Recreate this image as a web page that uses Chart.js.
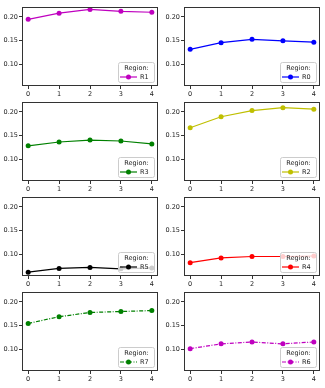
<!DOCTYPE html>
<html>
<head>
<meta charset="utf-8">
<script src="https://cdn.jsdelivr.net/npm/chart.js@4.4.0/dist/chart.umd.min.js"></script>
<style>
body { margin: 0; background: #fff; width: 325px; height: 388px; overflow: hidden; position: relative; }
canvas { position: absolute; }
</style>
</head>
<body>
<script>
// data
const xs = [0, 1, 2, 3, 4];
const yTicks = [0.10, 0.15, 0.20];
const r1Values = [0.195, 0.208, 0.216, 0.212, 0.210];
const r0Values = [0.132, 0.146, 0.153, 0.150, 0.147];
const r3Values = [0.129, 0.137, 0.141, 0.139, 0.133];
const r2Values = [0.167, 0.190, 0.203, 0.209, 0.206];
const r5Values = [0.063, 0.071, 0.073, 0.070, 0.072];
const r4Values = [0.083, 0.093, 0.096, 0.096, 0.097];
const r7Values = [0.155, 0.169, 0.178, 0.180, 0.182];
const r6Values = [0.102, 0.112, 0.116, 0.112, 0.116];

const panels = [
    { name: 'R1', values: r1Values, color: '#bf00bf', dash: [] },
    { name: 'R0', values: r0Values, color: '#0000ff', dash: [] },
    { name: 'R3', values: r3Values, color: '#008000', dash: [] },
    { name: 'R2', values: r2Values, color: '#bfbf00', dash: [] },
    { name: 'R5', values: r5Values, color: '#000000', dash: [] },
    { name: 'R4', values: r4Values, color: '#ff0000', dash: [] },
    { name: 'R7', values: r7Values, color: '#008000', dash: [4, 1.5, 1, 1.5] },
    { name: 'R6', values: r6Values, color: '#bf00bf', dash: [4, 1.5, 1, 1.5] }
];

const tickFont = { family: 'DejaVu Sans', size: 6.5 };

// box around the plot area, like matplotlib spines
const framePlugin = {
    id: 'frame',
    afterDraw(chart) {
        const a = chart.chartArea;
        const ctx = chart.ctx;
        ctx.save();
        ctx.strokeStyle = '#333';
        ctx.lineWidth = 1;
        ctx.strokeRect(Math.round(a.left) + 0.5, Math.round(a.top) + 0.5,
            Math.round(a.right - a.left) - 1, Math.round(a.bottom - a.top) - 1);
        ctx.restore();
    }
};

// framed legend with title, lower right inside the plot
const boxLegendPlugin = {
    id: 'boxLegend',
    afterDraw(chart, args, opts) {
        const a = chart.chartArea;
        const ctx = chart.ctx;
        const w = 36, h = 20;
        const x0 = Math.round(a.right - 4 - w), y0 = Math.round(a.bottom - 4 - h);
        ctx.save();
        ctx.beginPath();
        ctx.roundRect(x0 + 0.5, y0 + 0.5, w, h, 2);
        ctx.fillStyle = 'rgba(255,255,255,0.8)';
        ctx.fill();
        ctx.strokeStyle = '#cccccc';
        ctx.lineWidth = 1;
        ctx.stroke();
        ctx.font = '6.5px "DejaVu Sans"';
        ctx.fillStyle = '#222';
        ctx.textAlign = 'center';
        ctx.textBaseline = 'middle';
        ctx.fillText('Region:', x0 + w / 2 + 0.5, y0 + 6);
        ctx.beginPath();
        ctx.setLineDash(opts.dash);
        ctx.strokeStyle = opts.color;
        ctx.lineWidth = 1.2;
        ctx.moveTo(x0 + 2, y0 + 15);
        ctx.lineTo(x0 + 19, y0 + 15);
        ctx.stroke();
        ctx.setLineDash([]);
        ctx.beginPath();
        ctx.arc(x0 + 10.5, y0 + 15, 2.5, 0, Math.PI * 2);
        ctx.fillStyle = opts.color;
        ctx.fill();
        ctx.fillStyle = '#222';
        ctx.textAlign = 'left';
        ctx.fillText(opts.label, x0 + 22, y0 + 15);
        ctx.restore();
    }
};

panels.forEach((p, i) => {
    const col = i % 2;
    const row = Math.floor(i / 2);
    const canvas = document.createElement('canvas');
    const w = col === 0 ? 162 : 163;
    canvas.width = w;
    canvas.height = 100;
    canvas.style.left = (col === 0 ? 0 : 162) + 'px';
    canvas.style.top = (row * 95) + 'px';
    canvas.style.width = w + 'px';
    canvas.style.height = '100px';
    document.body.appendChild(canvas);

    new Chart(canvas.getContext('2d'), {
        type: 'line',
        data: {
            datasets: [{
                label: p.name,
                data: xs.map((x, k) => ({ x: x, y: p.values[k] })),
                borderColor: p.color,
                backgroundColor: p.color,
                borderWidth: 1.2,
                borderDash: p.dash,
                pointRadius: 2.5,
                pointBorderWidth: 0,
                pointBackgroundColor: p.color,
                tension: 0,
                clip: false
            }]
        },
        options: {
            responsive: false,
            animation: false,
            devicePixelRatio: 1,
            layout: { padding: { left: 0, right: col === 0 ? 2 : 5, top: 7, bottom: 0 } },
            plugins: {
                legend: { display: false },
                tooltip: { enabled: false },
                boxLegend: { label: p.name, color: p.color, dash: p.dash }
            },
            scales: {
                x: {
                    type: 'linear',
                    min: -0.2,
                    max: 4.2,
                    afterBuildTicks: s => { s.ticks = xs.map(v => ({ value: v })); },
                    afterFit: s => { s.height = 14; },
                    ticks: { font: tickFont, color: '#222', padding: 1, maxRotation: 0,
                        callback: v => String(v) },
                    grid: { display: true, drawOnChartArea: false, drawTicks: true, tickLength: 3, color: '#333' },
                    border: { display: false }
                },
                y: {
                    min: 0.055,
                    max: 0.221,
                    afterBuildTicks: s => { s.ticks = yTicks.map(v => ({ value: v })); },
                    afterFit: s => { s.width = 22; },
                    ticks: { font: tickFont, color: '#222', padding: 1,
                        callback: v => v.toFixed(2) },
                    grid: { display: true, drawOnChartArea: false, drawTicks: true, tickLength: 3, color: '#333' },
                    border: { display: false }
                }
            }
        },
        plugins: [framePlugin, boxLegendPlugin]
    });
});
</script>
</body>
</html>
